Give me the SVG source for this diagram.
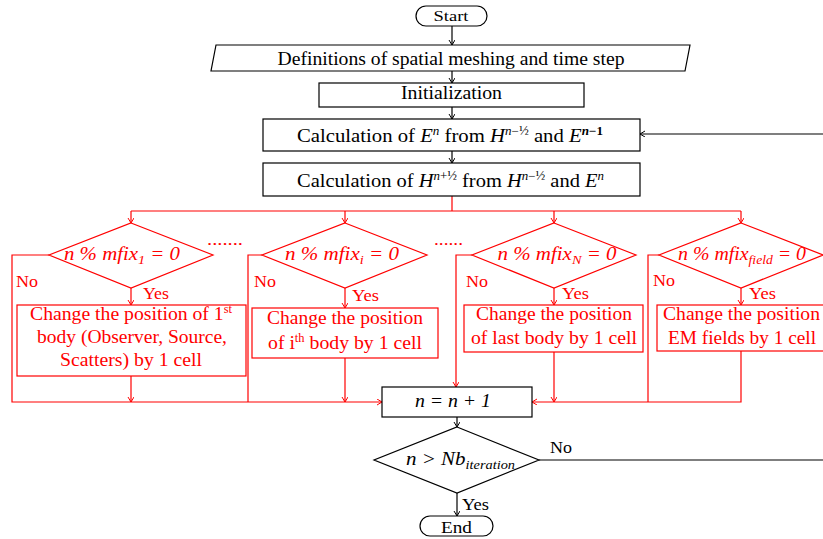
<svg xmlns="http://www.w3.org/2000/svg" width="823" height="539" viewBox="0 0 823 539">
<defs>
<marker id="ab" markerWidth="8" markerHeight="8" refX="5" refY="3" orient="auto" markerUnits="userSpaceOnUse"><path d="M0,0 L5,3 L0,6" fill="none" stroke="#000" stroke-width="1"/></marker>
<marker id="ar" markerWidth="8" markerHeight="8" refX="5" refY="3" orient="auto" markerUnits="userSpaceOnUse"><path d="M0,0 L5,3 L0,6" fill="none" stroke="#f00" stroke-width="1"/></marker>
</defs>
<rect width="823" height="539" fill="#fff"/>
<g id="connectors" fill="none" stroke-width="1.2">
<g stroke="#000">
<path d="M452,26 V45" marker-end="url(#ab)"/>
<path d="M452,71 V83" marker-end="url(#ab)"/>
<path d="M452,107 V119" marker-end="url(#ab)"/>
<path d="M452,151 V163" marker-end="url(#ab)"/>
<path d="M457,417 V427" marker-end="url(#ab)"/>
<path d="M457,493 V516" marker-end="url(#ab)"/>
<path d="M539,460 H830 V134 H640" marker-end="url(#ab)"/>
</g>
<g stroke="#f00">
<path d="M452,196 V211 M131,211 H741"/>
<path d="M131,211 V223" marker-end="url(#ar)"/>
<path d="M345,211 V223" marker-end="url(#ar)"/>
<path d="M554,211 V223" marker-end="url(#ar)"/>
<path d="M741,211 V223" marker-end="url(#ar)"/>
<path d="M131,288 V305" marker-end="url(#ar)"/>
<path d="M345,288 V308" marker-end="url(#ar)"/>
<path d="M554,288 V305" marker-end="url(#ar)"/>
<path d="M741,288 V305" marker-end="url(#ar)"/>
<path d="M49,255 H12 V402 H382" marker-end="url(#ar)"/>
<path d="M262,255 H248 V402"/>
<path d="M472,255 H456 V387" marker-end="url(#ar)"/>
<path d="M659,255 H648 V402"/>
<path d="M741,351 V402 H532" marker-end="url(#ar)"/>
<path d="M131,376 V402" marker-end="url(#ar)"/>
<path d="M345,358 V402" marker-end="url(#ar)"/>
<path d="M554,352 V402" marker-end="url(#ar)"/>
</g>
</g>
<g font-family="Liberation Serif, serif" font-size="19" text-anchor="middle">
<g fill="#fff" stroke="#000" stroke-width="1.2">
<g id="start"><rect x="416" y="6" width="71" height="20" rx="10"/><text fill="#000" stroke="none" x="451" y="20.5" font-size="15" textLength="35" lengthAdjust="spacingAndGlyphs">Start</text></g>
<g id="definitions"><polygon points="216,45 690,45 685,71 211,71"/><text fill="#000" stroke="none" x="451" y="64.5" textLength="347" lengthAdjust="spacingAndGlyphs">Definitions of spatial meshing and time step</text></g>
<g id="init"><rect x="319" y="83" width="265" height="24"/><text fill="#000" stroke="none" x="451.5" y="98.5" textLength="101" lengthAdjust="spacingAndGlyphs">Initialization</text></g>
<g id="calcE"><rect x="263" y="119" width="377" height="32"/><text fill="#000" stroke="none" x="450" y="142" textLength="306" lengthAdjust="spacingAndGlyphs">Calculation of <tspan font-style="italic">E</tspan><tspan font-size="12" dy="-7" font-style="italic">n</tspan><tspan dy="7"> from </tspan><tspan font-style="italic">H</tspan><tspan font-size="12" dy="-7"><tspan font-style="italic">n</tspan>−½</tspan><tspan dy="7"> and </tspan><tspan font-style="italic">E</tspan><tspan font-size="12" dy="-7" font-weight="bold"><tspan font-style="italic">n</tspan>−1</tspan></text></g>
<g id="calcH"><rect x="263" y="163" width="377" height="33"/><text fill="#000" stroke="none" x="450.5" y="186.5" textLength="307" lengthAdjust="spacingAndGlyphs">Calculation of <tspan font-style="italic">H</tspan><tspan font-size="12" dy="-7"><tspan font-style="italic">n</tspan>+½</tspan><tspan dy="7"> from </tspan><tspan font-style="italic">H</tspan><tspan font-size="12" dy="-7"><tspan font-style="italic">n</tspan>−½</tspan><tspan dy="7"> and </tspan><tspan font-style="italic">E</tspan><tspan font-size="12" dy="-7" font-style="italic">n</tspan></text></g>
<g id="incr"><rect x="382" y="387" width="150" height="30"/><text fill="#000" stroke="none" font-style="italic" x="453" y="407" textLength="76" lengthAdjust="spacingAndGlyphs">n = n + 1</text></g>
<g id="check"><polygon points="457,427 539,460 457,493 374,460"/><text fill="#000" stroke="none" font-style="italic" x="460.5" y="465" textLength="109" lengthAdjust="spacingAndGlyphs">n &gt; Nb<tspan font-size="13" dy="4">iteration</tspan></text></g>
<g id="end"><rect x="420" y="516" width="73" height="20" rx="10"/><text fill="#000" stroke="none" x="456.5" y="532.5" font-size="17" textLength="31" lengthAdjust="spacingAndGlyphs">End</text></g>
</g>
<g id="labels-black" fill="#000" text-anchor="start" font-size="17"><text x="550" y="452.5" textLength="22" lengthAdjust="spacingAndGlyphs">No</text><text x="462" y="510" textLength="27" lengthAdjust="spacingAndGlyphs">Yes</text></g>
<g fill="#fff" stroke="#f00" stroke-width="1.2">
<g id="dec1"><polygon points="131,223 213,255 131,288 49,255"/><text fill="#f00" stroke="none" font-style="italic" x="122" y="260" textLength="116" lengthAdjust="spacingAndGlyphs">n % mfix<tspan font-size="13" dy="4">1</tspan><tspan dy="-4"> = 0</tspan></text></g>
<g id="dec2"><polygon points="345,223 427,255 345,288 262,255"/><text fill="#f00" stroke="none" font-style="italic" x="342" y="260" textLength="114" lengthAdjust="spacingAndGlyphs">n % mfix<tspan font-size="13" dy="4">i</tspan><tspan dy="-4"> = 0</tspan></text></g>
<g id="dec3"><polygon points="554,223 636,255 554,288 472,255"/><text fill="#f00" stroke="none" font-style="italic" x="557" y="260" textLength="119" lengthAdjust="spacingAndGlyphs">n % mfix<tspan font-size="13" dy="4">N</tspan><tspan dy="-4"> = 0</tspan></text></g>
<g id="dec4"><polygon points="741,223 823,255 741,288 659,255"/><text fill="#f00" stroke="none" font-style="italic" x="742" y="260" textLength="128" lengthAdjust="spacingAndGlyphs">n % mfix<tspan font-size="13" dy="4">field</tspan><tspan dy="-4"> = 0</tspan></text></g>
<g id="proc1"><rect x="17" y="305" width="229" height="71"/><g fill="#f00" stroke="none"><text x="131" y="320" textLength="202" lengthAdjust="spacingAndGlyphs">Change the position of 1<tspan font-size="12" dy="-7">st</tspan></text><text x="132" y="343" textLength="190" lengthAdjust="spacingAndGlyphs">body (Observer, Source,</text><text x="131" y="366" textLength="142" lengthAdjust="spacingAndGlyphs">Scatters) by 1 cell</text></g></g>
<g id="proc2"><rect x="252" y="308" width="186" height="50"/><g fill="#f00" stroke="none"><text x="345" y="324" textLength="156" lengthAdjust="spacingAndGlyphs">Change the position</text><text x="345" y="349" textLength="154" lengthAdjust="spacingAndGlyphs">of i<tspan font-size="12" dy="-7">th</tspan><tspan dy="7"> body by 1 cell</tspan></text></g></g>
<g id="proc3"><rect x="464" y="305" width="179" height="47"/><g fill="#f00" stroke="none"><text x="554" y="320" textLength="156" lengthAdjust="spacingAndGlyphs">Change the position</text><text x="554" y="344" textLength="166" lengthAdjust="spacingAndGlyphs">of last body by 1 cell</text></g></g>
<g id="proc4"><rect x="657" y="305" width="170" height="46"/><g fill="#f00" stroke="none"><text x="741.5" y="320" textLength="157" lengthAdjust="spacingAndGlyphs">Change the position</text><text x="742" y="344" textLength="148" lengthAdjust="spacingAndGlyphs">EM fields by 1 cell</text></g></g>
</g>
<g id="labels-red" fill="#f00" font-size="17">
<text x="225" y="245" textLength="36" lengthAdjust="spacingAndGlyphs">.......</text><text x="448.5" y="245" textLength="29" lengthAdjust="spacingAndGlyphs">......</text>
<g text-anchor="start">
<text x="16" y="287" textLength="22" lengthAdjust="spacingAndGlyphs">No</text><text x="254" y="287" textLength="22" lengthAdjust="spacingAndGlyphs">No</text><text x="466" y="287" textLength="22" lengthAdjust="spacingAndGlyphs">No</text><text x="653" y="286" textLength="22" lengthAdjust="spacingAndGlyphs">No</text>
<text x="143" y="299" font-size="16" textLength="26" lengthAdjust="spacingAndGlyphs">Yes</text><text x="352" y="301" font-size="16" textLength="27" lengthAdjust="spacingAndGlyphs">Yes</text><text x="562" y="299" font-size="16" textLength="27" lengthAdjust="spacingAndGlyphs">Yes</text><text x="749" y="299" font-size="16" textLength="27" lengthAdjust="spacingAndGlyphs">Yes</text>
</g>
</g>
</g>
</svg>
